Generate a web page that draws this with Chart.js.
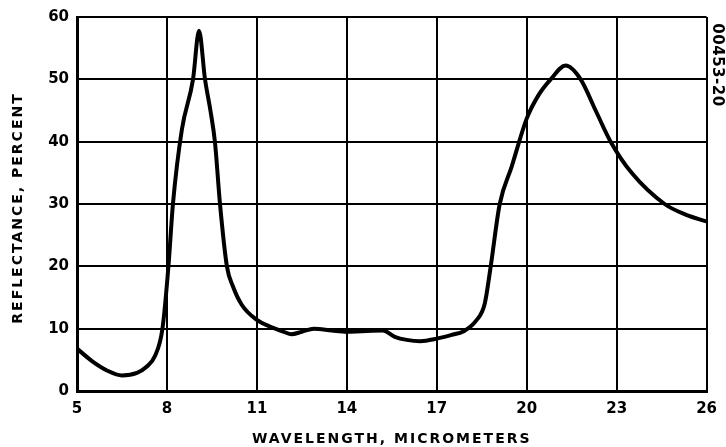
<!DOCTYPE html>
<html>
<head>
<meta charset="utf-8">
<script src="https://cdn.jsdelivr.net/npm/chart.js@4"></script>
<style>
    html, body { margin: 0; padding: 0; background: #fff; }
    #wrap { width: 726px; height: 447px; }
</style>
</head>
<body>
<div id="wrap"><canvas id="reflectance-chart" width="726" height="447"></canvas></div>
<script>
// wavelength (micrometers) and reflectance (percent)
const wavelength = [5, 5.5, 6, 6.5, 7, 7.3, 7.6, 7.85, 8.05, 8.2, 8.5, 8.87, 9.07, 9.27, 9.45, 9.6, 9.77, 10.0, 10.2, 10.5, 11.0, 11.4, 11.9, 12.15, 12.5, 12.9, 13.5, 14.0, 14.5, 15.2, 15.6, 16.0, 16.45, 17.0, 17.5, 17.9, 18.3, 18.6, 18.8, 19.1, 19.5, 20.0, 20.4, 20.8, 21.3, 21.8, 22.3, 22.8, 23.5, 24.6, 25.3, 26];
const reflectance = [6.8, 4.8, 3.3, 2.5, 2.9, 3.8, 5.6, 10, 20, 30, 42, 50, 57.8, 50, 45, 40, 30, 20, 16.8, 13.8, 11.4, 10.4, 9.5, 9.1, 9.5, 10.0, 9.7, 9.5, 9.6, 9.7, 8.7, 8.2, 8.0, 8.4, 9.0, 9.6, 11.2, 14.0, 20, 30, 36, 43.7, 47.5, 50, 52.2, 50, 45, 40, 35, 30, 28.3, 27.2];
const xTicks = [5, 8, 11, 14, 17, 20, 23, 26];
const yTicks = [0, 10, 20, 30, 40, 50, 60];

const xTitle = 'WAVELENGTH, MICROMETERS';
const yTitle = 'REFLECTANCE, PERCENT';
const figureId = '00453-20';

const points = wavelength.map((w, i) => ({ x: w, y: reflectance[i] }));

// axis titles and figure number drawn with letter spacing
const titlesPlugin = {
    id: 'titles',
    afterDraw(chart) {
        const { ctx, chartArea } = chart;
        ctx.save();
        ctx.fillStyle = '#000';
        ctx.font = 'bold 14px "DejaVu Sans"';
        ctx.letterSpacing = '2px';
        ctx.textAlign = 'center';
        ctx.textBaseline = 'middle';
        ctx.fillText(xTitle, (chartArea.left + chartArea.right) / 2, 439);

        ctx.save();
        ctx.translate(18, 208);
        ctx.rotate(-Math.PI / 2);
        ctx.fillText(yTitle, 0, 0);
        ctx.restore();

        ctx.letterSpacing = '0.5px';
        ctx.font = 'bold 15px "DejaVu Sans"';
        ctx.translate(717, 65);
        ctx.rotate(Math.PI / 2);
        ctx.fillText(figureId, 0, 0);
        ctx.restore();
    }
};

new Chart(document.getElementById('reflectance-chart').getContext('2d'), {
    type: 'line',
    data: {
        datasets: [{
            data: points,
            borderColor: '#000',
            borderWidth: 4,
            pointRadius: 0,
            cubicInterpolationMode: 'monotone',
            fill: false
        }]
    },
    options: {
        responsive: false,
        animation: false,
        layout: { padding: { left: 0, right: 19, top: 16, bottom: 0 } },
        plugins: { legend: { display: false }, tooltip: { enabled: false } },
        scales: {
            x: {
                type: 'linear',
                min: 5,
                max: 26,
                afterBuildTicks: (axis) => { axis.ticks = xTicks.map(v => ({ value: v })); },
                afterFit: (axis) => { axis.height = 56; },
                grid: { color: '#000', lineWidth: 2, drawTicks: false },
                border: { color: '#000', width: 3 },
                ticks: {
                    color: '#000',
                    padding: 9,
                    maxRotation: 0,
                    font: { family: 'DejaVu Sans', size: 15, weight: 'bold' }
                }
            },
            y: {
                min: 0,
                max: 60,
                afterBuildTicks: (axis) => { axis.ticks = yTicks.map(v => ({ value: v })); },
                afterFit: (axis) => { axis.width = 77; },
                grid: { color: '#000', lineWidth: 2, drawTicks: false },
                border: { color: '#000', width: 3 },
                ticks: {
                    color: '#000',
                    padding: 8,
                    font: { family: 'DejaVu Sans', size: 15, weight: 'bold' }
                }
            }
        }
    },
    plugins: [titlesPlugin]
});
</script>
</body>
</html>
